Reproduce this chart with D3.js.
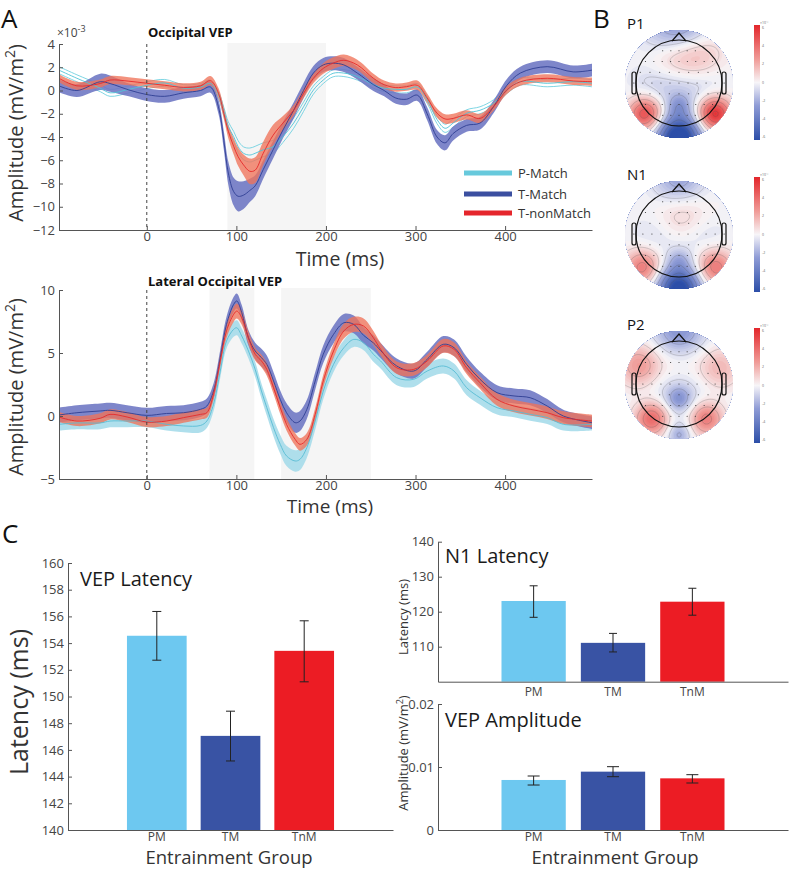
<!DOCTYPE html>
<html>
<head>
<meta charset="utf-8">
<script src="https://cdn.jsdelivr.net/npm/d3@7"></script>
<style>
  body { margin: 0; background: #fff; }
  svg { display: block; font-family: "Open Sans", sans-serif; }
</style>
</head>
<body>
<svg id="fig" width="790" height="870"></svg>
<script>
// ---------- data ----------
const groupNames = ["P-Match", "T-Match", "T-nonMatch"];

// Occipital VEP (x1e-3 mV/m^2)
const occTime = [-98,-78,-52,-41,-20, 0,20,41,60,71, 80,86,91,97,102, 108,115,121,130,141,
  152,164,175,186,197, 208,220,235,253,265, 278,290,302,313,324, 333,342,357,372,387, 402,417,447,476,497];
const occPMatch = [1.75,1.05,0.2,-0.2,0.1, 0.45,0.65,0.2,0.3,0.6, -0.39,-1.8,-3.1,-3.97,-4.83,
  -5.4,-5.55,-5.4,-5.1,-4.83, -3.97,-2.8,-1.4,0.04,0.9, 1.48,1.5,1.2,0.5,0.2,
  0.1,0.1,0.3,-0.8,-2.5, -3.25,-2.8,-1.96,-1.7,-1.1, 0.04,0.76,0.62,0.76,0.62];
const occPMatchErr = [0.3,0.3,0.3,0.3,0.3, 0.3,0.3,0.3,0.3,0.3, 0.3,0.35,0.4,0.45,0.5,
  0.55,0.6,0.6,0.6,0.55, 0.5,0.45,0.4,0.35,0.3, 0.3,0.3,0.3,0.3,0.3,
  0.3,0.3,0.3,0.3,0.35, 0.35,0.35,0.3,0.3,0.3, 0.3,0.3,0.3,0.3,0.3];
const occTMatch = [0.4,0.0,0.75,0.6,0.05, -0.35,-0.5,-0.2,0.0,0.3, -1.4,-4.3,-7.1,-8.7,-9.1,
  -9.0,-8.6,-8.2,-6.8,-5.1, -3.4,-1.7,0.0,1.5,2.2, 2.35,2.2,1.5,0.5,0.0,
  -0.65,-0.75,-0.4,-2.0,-4.0, -4.5,-3.7,-3.0,-2.8,-1.4, 0.45,1.5,2.05,1.6,1.75];
const occTMatchErr = [0.55,0.55,0.7,0.7,0.55, 0.55,0.55,0.5,0.5,0.5, 0.6,0.8,1.0,1.2,1.3,
  1.2,1.0,0.9,0.8,0.75, 0.7,0.7,0.65,0.6,0.6, 0.6,0.6,0.55,0.55,0.5,
  0.5,0.5,0.5,0.55,0.6, 0.65,0.6,0.55,0.55,0.55, 0.55,0.55,0.55,0.55,0.55];
const occTnMatch = [1.05,0.4,0.6,0.9,0.8, 0.62,0.45,0.27,0.4,0.85, -0.24,-1.96,-3.5,-4.8,-5.7,
  -6.4,-6.95,-6.85,-5.4,-3.85, -2.8,-1.7,-0.25,1.05,1.9, 2.35,2.6,2.2,1.05,0.5,
  0.25,0.33,0.45,-0.65,-1.95, -2.45,-2.4,-2.1,-2.4,-1.4, 0.05,0.75,1.05,0.82,0.76];
const occTnMatchErr = [0.35,0.35,0.35,0.35,0.35, 0.35,0.35,0.35,0.35,0.4, 0.45,0.5,0.6,0.7,0.8,
  0.9,1.1,1.1,1.0,0.9, 0.6,0.45,0.4,0.4,0.45, 0.5,0.5,0.45,0.4,0.35,
  0.35,0.35,0.4,0.4,0.4, 0.4,0.4,0.4,0.4,0.35, 0.35,0.35,0.35,0.35,0.35];
const occWindows = [[90, 200]];

// Lateral occipital VEP (mV/m^2)
const latTime = [-98,-78,-52,-41,-22, 0,22,41,60,67, 74.5,82,89,97,100.5, 106,113.5,121,128,134,
  141.5,149,156,165.6,171, 178.7,188,197,208.5,220, 231,242,253,261,279, 298,313,331,343,357,
  372,391,410,428,447, 465,497];
const latPMatch = [-0.66,-0.55,-0.55,-0.4,-0.4, -0.4,-0.66,-0.79,-0.75,-0.4, 0.93,3.57,5.95,6.88,7.0,
  6.35,5.16,3.7,1.98,0.66, -0.93,-2.25,-3.17,-3.57,-3.44, -2.51,-0.4,1.98,4.1,5.42,
  6.08,5.82,4.9,4.37,3.04, 2.91,3.57,3.97,3.57,2.25, 1.45,0.66,0.4,0.13,-0.13, -0.66,-0.66];
const latPMatchErr = [0.5,0.5,0.5,0.5,0.5, 0.5,0.5,0.5,0.55,0.55, 0.55,0.55,0.6,0.6,0.6,
  0.6,0.6,0.6,0.6,0.65, 0.7,0.75,0.8,0.85,0.85, 0.8,0.7,0.65,0.6,0.6,
  0.6,0.6,0.6,0.6,0.6, 0.6,0.6,0.6,0.6,0.6, 0.55,0.55,0.5,0.5,0.5, 0.5,0.5];
const latTMatch = [0.08,0.26,0.4,0.45,0.26, 0.05,0.2,0.26,0.53,0.79, 1.98,4.63,7.27,8.86,9.13,
  8.2,6.2,5.16,4.63,4.1, 2.78,1.32,0.26,-0.53,-0.4, 0.53,2.78,4.9,6.48,7.4,
  7.27,6.4,5.8,5.2,3.97, 3.57,4.5,5.69,5.42,4.1, 2.91,1.85,1.59,1.45,0.79, 0.0,-0.53];
const latTMatchErr = [0.6,0.6,0.6,0.6,0.6, 0.6,0.6,0.6,0.6,0.6, 0.6,0.6,0.6,0.6,0.6,
  0.6,0.6,0.65,0.7,0.7, 0.7,0.7,0.75,0.8,0.8, 0.75,0.7,0.7,0.7,0.7,
  0.7,0.65,0.6,0.6,0.6, 0.6,0.6,0.65,0.65,0.6, 0.6,0.6,0.6,0.6,0.55, 0.5,0.5];
const latTnMatch = [-0.08,-0.4,-0.18,0.13,-0.08, -0.48,-0.4,-0.13,0.13,0.26, 1.72,4.37,6.75,8.07,8.33,
  7.8,6.2,4.9,4.37,3.7, 2.25,0.66,-0.66,-1.85,-2.25, -1.85,0.13,2.78,5.16,6.75,
  7.27,7.14,6.2,5.3,3.83, 3.7,4.37,5.56,5.29,3.83, 2.64,1.32,0.79,0.53,0.26, -0.13,-0.4];
const latTnMatchErr = [0.4,0.4,0.4,0.4,0.4, 0.4,0.4,0.4,0.4,0.4, 0.45,0.5,0.55,0.6,0.6,
  0.55,0.5,0.5,0.5,0.5, 0.5,0.5,0.5,0.5,0.5, 0.5,0.5,0.5,0.55,0.6,
  0.6,0.6,0.55,0.5,0.5, 0.5,0.5,0.55,0.55,0.5, 0.5,0.5,0.5,0.5,0.5, 0.5,0.5];
const latWindows = [[70, 120], [150, 250]];

// topographies: [u, v, spread, weight] blobs
const topoLabels = ["P1", "N1", "P2"];
const p1Sources = [[0,1.0,0.3,-1.2],[0,0.4,0.14,-0.25],[-0.5,0.05,0.32,-0.14],[0,0.05,0.32,-0.16],
  [0.5,0.05,0.32,-0.14],[-0.62,0.55,0.22,0.85],[0.66,0.55,0.22,1.0],[0.3,-0.5,0.35,0.3],
  [-0.2,-0.45,0.3,0.15],[-0.2,-1.0,0.35,-0.3],[0.2,-1.05,0.3,-0.25]];
const n1Sources = [[0,1.0,0.3,-1.1],[0,0.45,0.14,-0.18],[-0.66,0.6,0.24,0.6],[0.66,0.6,0.24,0.62],
  [0.05,-0.4,0.35,0.22],[0,-1.0,0.33,-0.4],[-0.45,0.05,0.33,-0.12],[0.45,0.05,0.33,-0.12]];
const p2Sources = [[0,-1.0,0.33,-0.45],[-0.72,-0.35,0.28,0.45],[0.72,-0.3,0.28,0.32],[0,-0.4,0.3,0.16],
  [0,0.25,0.15,-0.32],[0,0.1,0.5,-0.2],[-0.5,0.62,0.22,0.72],[0.5,0.62,0.22,0.62],[0,0.92,0.15,-0.3]];
const electrodeRows = [[-0.75,5,0.38],[-0.5,9,0.78],[-0.25,9,0.9],[0.0,11,1.05],[0.25,9,0.9],[0.5,9,0.78],[0.75,5,0.38]];
const colorbarTicks = [6, 4, 2, 0, -2, -4, -6];

// bar charts
const barGroups = ["PM", "TM", "TnM"];
const vepLatency = [154.55, 147.05, 153.42];
const vepLatencyLow = [152.72, 145.17, 151.1];
const vepLatencyHigh = [156.37, 148.9, 155.67];
const n1Latency = [123.06, 111.1, 122.86];
const n1LatencyLow = [118.4, 108.5, 119.0];
const n1LatencyHigh = [127.4, 113.8, 126.7];
const vepAmplitude = [0.00794, 0.00926, 0.0082];
const vepAmplitudeLow = [0.00714, 0.00846, 0.00746];
const vepAmplitudeHigh = [0.00857, 0.01005, 0.00878];

// ---------- drawing ----------
const svg = d3.select("#fig");
const barColors = ["#6dc8f0", "#3953a4", "#ec1c24"];
const lineColors = ["#58bcd4", "#2f3e93", "#e52a2a"];
const bandColors = ["#a4dbe9", "#6c75c3", "#f0735a"];
const legendColors = ["#67c9dc", "#3b4fa0", "#e5262c"];

function styleAxis(g) {
  g.select(".domain").attr("stroke", "#555");
  g.selectAll(".tick line").attr("stroke", "#555");
  g.selectAll(".tick text").attr("fill", "#444").style("font-size", "13px")
    .style("font-family", '"Open Sans", sans-serif');
}

function label(x, y, txt, size, opts = {}) {
  const t = svg.append("text").attr("x", x).attr("y", y)
    .style("font-size", size + "px").attr("fill", opts.fill || "#222")
    .attr("text-anchor", opts.anchor || "start");
  if (opts.bold) t.style("font-weight", 700);
  if (opts.rotate) t.attr("transform", `rotate(-90,${x},${y})`);
  t.text(txt);
  return t;
}

const xTime = d3.scaleLinear().domain([-98, 497]).range([59, 592]);

function drawErp(cfg) {
  const g = svg.append("g");
  const y = cfg.y;
  const base = y.range()[0];
  g.selectAll("rect").data(cfg.windows).join("rect")
    .attr("x", d => xTime(d[0])).attr("width", d => xTime(d[1]) - xTime(d[0]))
    .attr("y", cfg.shadeTop).attr("height", base - cfg.shadeTop)
    .attr("fill", "#f5f5f5");

  const series = cfg.means.map((m, k) => cfg.time.map((t, i) => ({ t, m: m[i], e: cfg.errs[k][i] })));
  const area = d3.area().curve(d3.curveCatmullRom)
    .x(d => xTime(d.t)).y0(d => y(d.m - d.e)).y1(d => y(d.m + d.e));
  const line = d3.line().curve(d3.curveCatmullRom).x(d => xTime(d.t)).y(d => y(d.m));

  series.forEach((s, k) => {
    if (k === 0 && cfg.thinFirst) {
      // P-Match drawn as outline only in the occipital panel
      ["lo", "hi"].forEach(side => {
        g.append("path").datum(s)
          .attr("d", d3.line().curve(d3.curveCatmullRom).x(d => xTime(d.t))
            .y(d => y(side === "lo" ? d.m - d.e : d.m + d.e)))
          .attr("fill", "none").attr("stroke", "#6fd0e0").attr("stroke-width", 0.9);
      });
    } else {
      g.append("path").datum(s).attr("d", area)
        .attr("fill", bandColors[k]).attr("fill-opacity", k === 2 ? 0.78 : 0.88);
    }
  });
  series.forEach((s, k) => {
    g.append("path").datum(s).attr("d", line)
      .attr("fill", "none").attr("stroke", k === 0 && cfg.thinFirst ? "#4fc3d6" : lineColors[k])
      .attr("stroke-width", 0.9);
  });

  g.append("line").attr("x1", xTime(0)).attr("x2", xTime(0))
    .attr("y1", y.range()[1]).attr("y2", base)
    .attr("stroke", "#444").attr("stroke-dasharray", "3,3");

  g.append("g").attr("transform", `translate(0,${base})`)
    .call(d3.axisBottom(xTime).tickValues([0, 100, 200, 300, 400]).tickSizeInner(-4).tickSizeOuter(0).tickPadding(2))
    .call(styleAxis);
  g.append("g").attr("transform", `translate(${xTime.range()[0]},0)`)
    .call(d3.axisLeft(y).tickValues(cfg.yTicks).tickSizeInner(-4).tickSizeOuter(0).tickPadding(4))
    .call(styleAxis);
}

// Occipital panel
const yOcc = d3.scaleLinear().domain([-12, 4]).range([230, 44]);
drawErp({ time: occTime, y: yOcc, windows: occWindows, shadeTop: 43, thinFirst: true,
  means: [occPMatch, occTMatch, occTnMatch], errs: [occPMatchErr, occTMatchErr, occTnMatchErr],
  yTicks: d3.range(-12, 5, 2) });

// Lateral occipital panel
const yLat = d3.scaleLinear().domain([-5, 10]).range([479, 290]);
drawErp({ time: latTime, y: yLat, windows: latWindows, shadeTop: 288, thinFirst: false,
  means: [latPMatch, latTMatch, latTnMatch], errs: [latPMatchErr, latTMatchErr, latTnMatchErr],
  yTicks: [-5, 0, 5, 10] });

// panel A texts
label(1, 28, "A", 26, { fill: "#111" });
label(148, 37, "Occipital VEP", 13, { bold: true, fill: "#111" });
label(148, 286, "Lateral Occipital VEP", 13, { bold: true, fill: "#111" });
const exp = label(57, 37, "\u00d710", 12, { fill: "#444" });
exp.append("tspan").attr("dy", -5).style("font-size", "9px").text("-3");
label(340, 266, "Time (ms)", 19.5, { anchor: "middle", fill: "#333" });
label(330, 513, "Time (ms)", 19, { anchor: "middle", fill: "#333" });
[[23, 133], [23, 387]].forEach(([x, yy]) => {
  const t = label(x, yy, "Amplitude (mV/m", 20, { anchor: "middle", rotate: true, fill: "#333" });
  t.append("tspan").attr("dy", -8).style("font-size", "14px").text("2");
  t.append("tspan").attr("dy", 8).text(")");
});

// legend
const legend = svg.append("g");
legend.selectAll("line").data(groupNames).join("line")
  .attr("x1", 464).attr("x2", 512)
  .attr("y1", (d, i) => [173, 194, 213][i]).attr("y2", (d, i) => [173, 194, 213][i])
  .attr("stroke", (d, i) => legendColors[i]).attr("stroke-width", 5);
legend.selectAll("text").data(groupNames).join("text")
  .attr("x", 518).attr("y", (d, i) => [173, 194, 213][i] + 4.5)
  .style("font-size", "13px").attr("fill", "#333").text(d => d);

// ---------- panel B: topographies ----------
label(593, 28, "B", 26, { fill: "#111" });
const topoColor = d3.scaleLinear().domain([-1, -0.4, 0, 0.4, 1])
  .range(["#2c4ea8", "#8f9cd6", "#f7f5f8", "#f09c98", "#e3262b"]).clamp(true);
const grad = svg.append("defs").append("linearGradient").attr("id", "cbar")
  .attr("x1", 0).attr("x2", 0).attr("y1", 0).attr("y2", 1);
d3.range(0, 1.001, 0.1).forEach(s => grad.append("stop").attr("offset", s).attr("stop-color", topoColor(1 - 2 * s)));

function drawTopo(cx, cy, sources, name, idx, cbTop) {
  const r = 54, n = 72, ext = 1.08;
  const values = [];
  for (let j = 0; j < n; j++) {
    for (let i = 0; i < n; i++) {
      const u = -ext + (i + 0.5) * 2 * ext / n, v = -ext + (j + 0.5) * 2 * ext / n;
      values.push(d3.sum(sources, s => s[3] * Math.exp(-((u - s[0]) ** 2 + (v - s[1]) ** 2) / (2 * s[2] ** 2))));
    }
  }
  const clipId = "topo" + idx;
  svg.append("clipPath").attr("id", clipId)
    .append("circle").attr("cx", cx).attr("cy", cy).attr("r", r);
  const outer = svg.append("g").attr("clip-path", `url(#${clipId})`);
  const inner = outer.append("g")
    .attr("transform", `translate(${cx - r * ext},${cy - r * ext}) scale(${2 * r * ext / n})`);
  const fills = d3.contours().size([n, n]).thresholds(d3.range(-1.6, 1.61, 0.04))(values);
  inner.selectAll("path.f").data(fills).join("path").attr("class", "f")
    .attr("d", d3.geoPath()).attr("fill", d => topoColor(d.value + 0.02));
  const lines = d3.contours().size([n, n]).thresholds(d3.range(-0.9, 1.0, 0.2))(values);
  inner.selectAll("path.l").data(lines).join("path").attr("class", "l")
    .attr("d", d3.geoPath()).attr("fill", "none").attr("stroke", "#555")
    .attr("stroke-opacity", 0.55).attr("stroke-width", 0.45).attr("vector-effect", "non-scaling-stroke");

  // head outline
  const hr = 43, hy = cy - 1;
  const head = svg.append("g").attr("fill", "none").attr("stroke", "#111").attr("stroke-width", 1.2);
  head.append("circle").attr("cx", cx).attr("cy", hy).attr("r", hr);
  head.append("path").attr("d", `M${cx - 7},${hy - hr + 1} L${cx},${hy - hr - 7} L${cx + 7},${hy - hr + 1}`);
  [-1, 1].forEach(sd => head.append("rect")
    .attr("x", sd < 0 ? cx - hr - 4 : cx + hr).attr("y", hy - 11).attr("width", 4).attr("height", 22)
    .attr("rx", 2));
  electrodeRows.forEach(([v, count, span]) => {
    d3.range(count).forEach(k => {
      svg.append("circle").attr("cx", cx + hr * span * (2 * k / (count - 1) - 1))
        .attr("cy", hy + hr * v).attr("r", 0.6).attr("fill", "#333");
    });
  });

  label(627, cy - 55, name, 15, { fill: "#111" });
  // colourbar
  const cb = d3.scaleLinear().domain([6, -6]).range([cbTop + 3, cbTop + 112]);
  svg.append("rect").attr("x", 754).attr("y", cbTop).attr("width", 6).attr("height", 115)
    .attr("fill", "url(#cbar)");
  svg.selectAll(null).data(colorbarTicks).join("text")
    .attr("x", 762).attr("y", d => cb(d) + 1).style("font-size", "3.5px").attr("fill", "#666")
    .text(d => d);
  svg.append("text").attr("x", 760).attr("y", cbTop - 1).style("font-size", "3.5px").attr("fill", "#666")
    .text("\u00d710\u207b\u00b3");
}
drawTopo(679, 84, p1Sources, topoLabels[0], 0, 25);
drawTopo(679, 235, n1Sources, topoLabels[1], 1, 177);
drawTopo(679, 385, p2Sources, topoLabels[2], 2, 328);

// ---------- panel C: bar charts ----------
label(2, 543, "C", 26, { fill: "#111" });

function drawBars(cfg) {
  const g = svg.append("g");
  const x = d3.scaleBand().domain(barGroups).range(cfg.xRange).paddingInner(0.19).paddingOuter(0.8);
  const y = cfg.y;
  const base = y.range()[0];
  g.selectAll("rect").data(cfg.values).join("rect")
    .attr("x", (d, i) => x(barGroups[i])).attr("width", x.bandwidth())
    .attr("y", d => y(d)).attr("height", d => base - y(d))
    .attr("fill", (d, i) => barColors[i]);
  const cap = cfg.cap;
  cfg.values.forEach((d, i) => {
    const cx = x(barGroups[i]) + x.bandwidth() / 2;
    const eg = g.append("g").attr("stroke", "#222").attr("stroke-width", 1);
    eg.append("line").attr("x1", cx).attr("x2", cx).attr("y1", y(cfg.low[i])).attr("y2", y(cfg.high[i]));
    eg.append("line").attr("x1", cx - cap).attr("x2", cx + cap).attr("y1", y(cfg.low[i])).attr("y2", y(cfg.low[i]));
    eg.append("line").attr("x1", cx - cap).attr("x2", cx + cap).attr("y1", y(cfg.high[i])).attr("y2", y(cfg.high[i]));
  });
  g.append("g").attr("transform", `translate(0,${base})`)
    .call(d3.axisBottom(x).tickSize(0).tickPadding(cfg.catPad))
    .call(styleAxis)
    .call(ax => ax.selectAll(".tick text").style("font-size", "12px"));
  g.append("g").attr("transform", `translate(${cfg.xRange[0]},0)`)
    .call(d3.axisLeft(y).tickValues(cfg.yTicks).tickFormat(cfg.fmt || (d => d))
      .tickSizeInner(-4).tickSizeOuter(0).tickPadding(4))
    .call(styleAxis);
  g.select(".domain").attr("stroke", "#555");
}

drawBars({ xRange: [68, 393], y: d3.scaleLinear().domain([140, 160]).range([830, 563]),
  values: vepLatency, low: vepLatencyLow, high: vepLatencyHigh, cap: 4.5, catPad: 2,
  yTicks: d3.range(140, 161, 2) });
drawBars({ xRange: [438, 788], y: d3.scaleLinear().domain([100, 140]).range([681.7, 541.7]),
  values: n1Latency, low: n1LatencyLow, high: n1LatencyHigh, cap: 4, catPad: 6,
  yTicks: [110, 120, 130, 140] });
drawBars({ xRange: [438, 788], y: d3.scaleLinear().domain([0, 0.02]).range([830, 704]),
  values: vepAmplitude, low: vepAmplitudeLow, high: vepAmplitudeHigh, cap: 6, catPad: 2,
  yTicks: [0, 0.01, 0.02], fmt: d => d === 0 ? "0" : d3.format(".2f")(d) });

label(80, 586, "VEP Latency", 20, { fill: "#1a1a1a" });
label(445, 563, "N1 Latency", 20, { fill: "#1a1a1a" });
label(445, 727, "VEP Amplitude", 20, { fill: "#1a1a1a" });
label(229, 864, "Entrainment Group", 18.5, { anchor: "middle", fill: "#333" });
label(615, 864, "Entrainment Group", 18.5, { anchor: "middle", fill: "#333" });
label(28, 702, "Latency (ms)", 25, { anchor: "middle", rotate: true, fill: "#333" });
label(408, 617, "Latency (ms)", 13, { anchor: "middle", rotate: true, fill: "#333" });
const ampLab = label(408, 753, "Amplitude (mV/m", 13, { anchor: "middle", rotate: true, fill: "#333" });
ampLab.append("tspan").attr("dy", -5).style("font-size", "9px").text("2");
ampLab.append("tspan").attr("dy", 5).text(")");
</script>
</body>
</html>
